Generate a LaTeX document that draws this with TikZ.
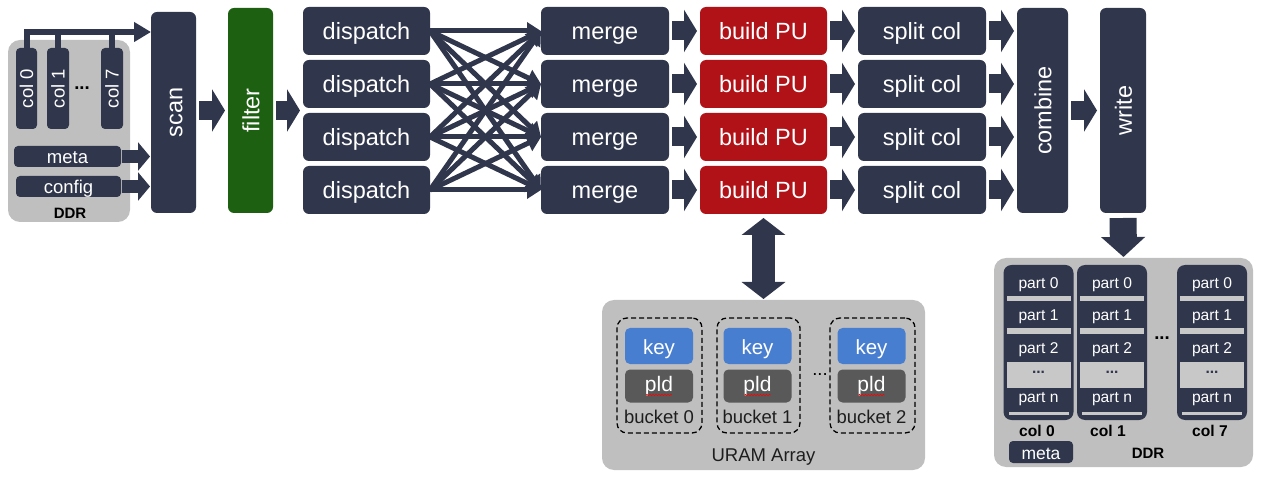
\documentclass[tikz,border=0pt]{standalone}
\usepackage{fontspec}
\setmainfont{Liberation Sans}
\usepackage{graphicx}
\usetikzlibrary{arrows.meta,decorations.pathmorphing}
\definecolor{navy}{RGB}{48,54,75}
\definecolor{fgreen}{RGB}{30,96,18}
\definecolor{bred}{RGB}{176,18,24}
\definecolor{lgrey}{RGB}{191,191,191}
\definecolor{strip}{RGB}{200,200,200}
\definecolor{keyblue}{RGB}{72,126,208}
\definecolor{pldgrey}{RGB}{89,89,89}
\definecolor{txtdark}{RGB}{30,30,30}
\newcommand{\vstrut}{\rule[-3pt]{0pt}{23.5pt}}
\tikzset{
  box/.style={rounded corners=6pt, inner sep=0pt, outer sep=0pt, text=white, font=\fontsize{23.5}{26}\selectfont, text height=20.5pt, text depth=3pt},
  vtext/.style={text height=, text depth=},
  darkbox/.style={box, fill=navy},
  greenbox/.style={box, fill=fgreen},
  redbox/.style={box, fill=bred},
  greybox/.style={rounded corners=12pt, fill=lgrey, inner sep=0pt, outer sep=0pt},
  smallbox/.style={darkbox, rounded corners=4pt, font=\fontsize{18.5}{20}\selectfont, text height=16.5pt, text depth=2.5pt},
  keybox/.style={box, rounded corners=5pt, fill=keyblue, font=\fontsize{20.5}{22}\selectfont, text height=17.5pt, text depth=1.5pt},
  pldbox/.style={box, rounded corners=5pt, fill=pldgrey, font=\fontsize{21}{22}\selectfont, text height=15.5pt, text depth=4pt},
  bucket/.style={draw=black, line width=1.3pt, dash pattern=on 5pt off 3pt, rounded corners=10pt, inner sep=0pt, outer sep=0pt},
  lbl/.style={inner sep=0pt, text=txtdark, font=\fontsize{18.5}{20}\selectfont},
  bold/.style={inner sep=0pt, text=black, font=\fontsize{15}{17}\bfseries\selectfont},
  part/.style={inner sep=0pt, text=white, font=\fontsize{15.6}{17}\selectfont},
  blockarrow/.style={draw=navy, line width=19pt, -{Triangle[length=13pt,width=42pt]}, shorten <=3pt, shorten >=3pt},
  smallarrow/.style={draw=navy, line width=13pt, -{Triangle[length=12pt,width=28pt]}, shorten <=1pt, shorten >=1pt},
  crossarrow/.style={draw=navy, line width=5pt, -{Triangle[length=14pt,width=17pt]}},
}
\begin{document}
\begin{tikzpicture}[x=1pt,y=-1pt]
\useasboundingbox (0,0) rectangle (1261,478);

% ---- left DDR ----
\node[greybox, minimum width=122pt, minimum height=182pt] (ddrL) at (69,131) {};
\node[smallbox, vtext, minimum width=21pt, minimum height=81pt] (c0) at (26.5,88.5) {\rotatebox{90}{col 0}};
\node[smallbox, vtext, minimum width=22pt, minimum height=81pt] (c1) at (58,88.5) {\rotatebox{90}{col 1}};
\node[smallbox, vtext, minimum width=22pt, minimum height=81pt] (c7) at (112,88.5) {\rotatebox{90}{col 7}};
\node[lbl, text=black] (dotsL) at (82,88) {\textbf{...}};
\node[smallbox, minimum width=107pt, minimum height=21pt] (meta) at (67.5,156.5) {meta};
\node[smallbox, minimum width=105pt, minimum height=21pt] (config) at (68.5,186.5) {config};
\node[bold] (ddrLlbl) at (70,213.5) {DDR};

% ---- pipeline ----
\node[darkbox, vtext, minimum width=45pt, minimum height=201pt] (scan) at (173.5,112.5) {\rotatebox{90}{\vstrut scan}};
\node[greenbox, vtext, minimum width=45pt, minimum height=205pt] (filter) at (250.5,110.5) {\rotatebox{90}{\vstrut filter}};
\foreach \i/\y in {1/31,2/84,3/137,4/190}{
  \node[darkbox, minimum width=127pt, minimum height=48pt] (d\i) at (366.5,\y) {dispatch};
  \node[darkbox, minimum width=128pt, minimum height=48pt] (m\i) at (605,\y) {merge};
  \node[redbox, minimum width=127pt, minimum height=48pt] (b\i) at (763.5,\y) {build PU};
  \node[darkbox, minimum width=128pt, minimum height=48pt] (s\i) at (922,\y) {split col};
}
\node[darkbox, vtext, minimum width=51pt, minimum height=205pt] (combine) at (1042.5,110.5) {\rotatebox{90}{\vstrut combine}};
\node[darkbox, vtext, minimum width=46pt, minimum height=205pt] (write) at (1123,110.5) {\rotatebox{90}{\vstrut write}};

% ---- connectors left ----
\coordinate (bar) at (0,32);
\draw[navy, line width=6pt, line join=miter, -{Triangle[length=17pt,width=19pt]}]
  (c0.north) -- (c0.north |- bar) -- (scan.west |- bar);
\draw[navy, line width=6pt] (c1.north) -- (c1.north |- bar);
\draw[navy, line width=6pt] (c7.north) -- (c7.north |- bar);
\draw[smallarrow] (meta.east) -- (meta.east -| scan.west);
\draw[smallarrow] (config.east) -- (config.east -| scan.west);
\draw[blockarrow] (scan.east |- filter.east) -- (filter.west);
\draw[blockarrow] (filter.east) -- (filter.east -| d1.west);

% ---- crossbar ----
\foreach \i in {1,2,3,4}{
  \foreach \j in {1,2,3,4}{
    \draw[crossarrow] (d\i.east) -- (m\j.west);
  }
}
\foreach \i in {1,2,3,4}{
  \draw[blockarrow] (m\i.east) -- (b\i.west);
  \draw[blockarrow] (b\i.east) -- (s\i.west);
  \draw[blockarrow] (s\i.east) -- (s\i.east -| combine.west);
}
\draw[blockarrow] (combine.east) -- (combine.east -| write.west);

% ---- URAM ----
\node[greybox, minimum width=323pt, minimum height=170pt] (uram) at (763.5,385) {};
\node[bucket, minimum width=85pt, minimum height=115pt] (bk0) at (659.5,375.5) {};
\node[bucket, minimum width=83pt, minimum height=115pt] (bk1) at (758.5,375.5) {};
\node[bucket, minimum width=85pt, minimum height=115pt] (bk2) at (872.5,375.5) {};
\foreach \k/\x in {0/659,1/757.5,2/871.5}{
  \node[keybox, minimum width=68pt, minimum height=36pt] (key\k) at (\x,346) {key};
  \node[pldbox, minimum width=68pt, minimum height=33pt] (pld\k) at (\x,386) {pld};
  \draw[red, line width=0.6pt, decorate, decoration={snake, amplitude=0.7pt, segment length=3pt}]
    ([xshift=-13pt,yshift=-9pt]pld\k.center) -- ([xshift=13pt,yshift=-9pt]pld\k.center);
  \node[lbl] (bl\k) at (\x,416.5) {bucket \k};
}
\node[lbl, text=black] (dotsU) at (820,375) {...};
\node[lbl] (uramlbl) at (763.5,457) {URAM Array};
\draw[navy, line width=23pt, {Triangle[length=17pt,width=43pt]}-{Triangle[length=17pt,width=43pt]}, shorten <=4pt, shorten >=1pt] (b4.south) -- (uram.north);

% ---- right DDR ----
\node[greybox, minimum width=259pt, minimum height=209pt] (ddrR) at (1123.5,362.5) {};
\draw[navy, line width=27pt, -{Triangle[length=20pt,width=43pt]}, shorten <=5pt, shorten >=1pt] (write.south) -- (ddrR.north);
\foreach \c/\x/\lx in {0/1038.5/1037,1/1112/1108,7/1212/1210}{
  \node[darkbox, vtext, rounded corners=8pt, minimum width=70pt, minimum height=155pt] (rc\c) at (\x,342.5) {};
  \fill[strip] (\x-32,296) rectangle (\x+32,301);
  \fill[strip] (\x-32,328.5) rectangle (\x+32,334);
  \fill[strip] (\x-32,362) rectangle (\x+32,388);
  \fill[strip] (\x-30,411.5) rectangle (\x+30,414.5);
  \node[part] (p0\c) at (\x,284.5) {part 0};
  \node[part] (p1\c) at (\x,317) {part 1};
  \node[part] (p2\c) at (\x,349.5) {part 2};
  \node[part, text=navy] (pd\c) at (\x,372) {\textbf{...}};
  \node[part] (pn\c) at (\x,399.5) {part n};
  \node[bold, font=\fontsize{15.6}{17}\bfseries\selectfont] (cl\c) at (\lx,431) {col \c};
}
\node[lbl, text=black] (dotsR) at (1162,338) {\textbf{...}};
\node[smallbox, minimum width=64pt, minimum height=22pt, font=\fontsize{17.5}{19}\selectfont] (metaR) at (1041,452) {meta};
\node[bold] (ddrRlbl) at (1148,453) {DDR};
\end{tikzpicture}
\end{document}
